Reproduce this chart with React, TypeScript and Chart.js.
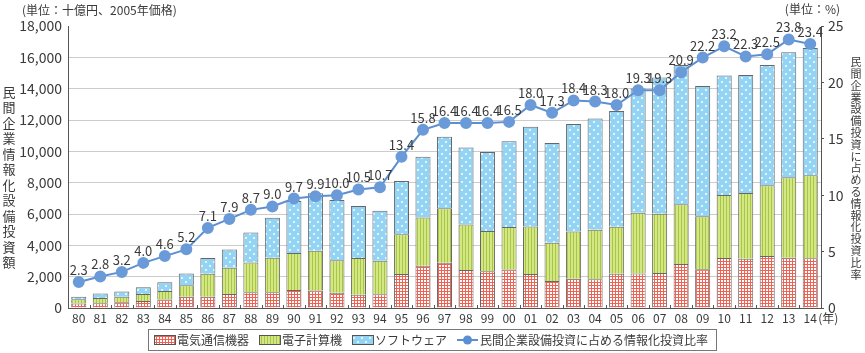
import { useEffect, useRef } from 'react';
import { Chart, registerables } from 'chart.js';

Chart.register(...registerables);

const years = ['80','81','82','83','84','85','86','87','88','89','90','91','92','93','94','95','96','97','98','99','00','01','02','03','04','05','06','07','08','09','10','11','12','13','14'];
const telecom = [280,300,360,450,550,720,720,890,1000,1000,1150,1110,980,850,870,2170,2700,2890,2420,2340,2450,2170,1720,1870,1830,2190,2210,2230,2810,2470,3190,3150,3320,3210,3170];
const computers = [280,340,360,450,530,740,1470,1680,1910,2210,2360,2550,2060,2340,2150,2530,3080,3470,2910,2570,2720,3040,2450,3020,3170,3000,3870,3780,3810,3380,4020,4190,4510,5130,5300];
const software = [165,280,340,420,560,750,1000,1170,1910,2550,3320,3660,3850,3320,3190,3400,3870,4570,4910,5040,5470,6360,6360,6850,7100,7380,7930,8700,8890,8320,7630,7530,7680,7980,8120];
const ratio = [2.3,2.8,3.2,4.0,4.6,5.2,7.1,7.9,8.7,9.0,9.7,9.9,10.0,10.5,10.7,13.4,15.8,16.4,16.4,16.4,16.5,18.0,17.3,18.4,18.3,18.0,19.3,19.3,20.9,22.2,23.2,22.3,22.5,23.8,23.4];

const seriesNames = ['電気通信機器', '電子計算機', 'ソフトウェア', '民間企業設備投資に占める情報化投資比率'];
const leftUnit = '(単位：十億円、2005年価格)';
const rightUnit = '(単位：%)';
const leftTitle = '民間企業情報化設備投資額';
const rightTitle = '民間企業設備投資に占める情報化投資比率';
const yearUnit = '(年)';

const FONT = "'Noto Sans CJK JP', 'Noto Sans', sans-serif";
const TEXT = '#3a3a3a';
const LINE = '#5b8fd1';
const AXIS = '#555555';

function makePattern(kind: string): CanvasPattern | string {
  const c = document.createElement('canvas');
  const x = c.getContext('2d');
  if (!x) return '#ccc';
  if (kind === 'red') {
    c.width = 3; c.height = 3;
    x.fillStyle = '#ee6353'; x.fillRect(0, 0, 3, 3);
    x.fillStyle = '#ffffff'; x.fillRect(1, 1, 2, 2);
  } else if (kind === 'green') {
    c.width = 3; c.height = 3;
    x.fillStyle = '#d3e783'; x.fillRect(0, 0, 3, 3);
    x.fillStyle = '#a8c54a'; x.fillRect(0, 0, 1, 3);
  } else {
    c.width = 8; c.height = 8;
    x.fillStyle = '#93d3f4'; x.fillRect(0, 0, 8, 8);
    x.fillStyle = '#ffffff';
    x.beginPath(); x.arc(2, 2, 1, 0, Math.PI * 2); x.fill();
    x.beginPath(); x.arc(6, 6, 1, 0, Math.PI * 2); x.fill();
  }
  return x.createPattern(c, 'repeat') || '#ccc';
}

export default function App() {
  const ref = useRef<HTMLCanvasElement | null>(null);

  useEffect(() => {
    document.body.style.margin = '0';
    const canvas = ref.current;
    if (!canvas) return;
    const pRed = makePattern('red');
    const pGreen = makePattern('green');
    const pBlue = makePattern('blue');

    const labelsPlugin = {
      id: 'ratioLabels',
      afterDatasetsDraw(chart: any) {
        const ctx = chart.ctx;
        const meta = chart.getDatasetMeta(3);
        ctx.save();
        ctx.font = `13px ${FONT}`;
        ctx.fillStyle = TEXT;
        ctx.textAlign = 'center';
        ctx.textBaseline = 'middle';
        meta.data.forEach((pt: any, i: number) => {
          ctx.fillText(ratio[i].toFixed(1), pt.x, pt.y - 12);
        });
        ctx.restore();
      },
    };

    const decorPlugin = {
      id: 'decor',
      afterDraw(chart: any) {
        const ctx = chart.ctx;
        const area = chart.chartArea;
        const xs = chart.scales.x;
        ctx.save();
        ctx.strokeStyle = AXIS;
        ctx.lineWidth = 1;
        const step = (area.right - area.left) / years.length;
        for (let i = 0; i <= years.length; i++) {
          const px = Math.round(area.left + i * step) + 0.5;
          ctx.beginPath();
          ctx.moveTo(px, area.bottom);
          ctx.lineTo(px, area.bottom - 3);
          ctx.stroke();
        }
        ctx.fillStyle = TEXT;
        ctx.font = `12px ${FONT}`;
        ctx.textBaseline = 'middle';
        ctx.textAlign = 'left';
        ctx.fillText(leftUnit, 22, 10);
        ctx.textAlign = 'right';
        ctx.fillText(rightUnit, 840, 9);
        ctx.textAlign = 'left';
        ctx.fillText(yearUnit, xs.getPixelForValue(years.length - 1) + 8, 318);
        ctx.textAlign = 'center';
        ctx.font = `13px ${FONT}`;
        Array.from(leftTitle).forEach((ch, i) => ctx.fillText(ch, 9, 92 + i * 15.5));
        ctx.font = `11px ${FONT}`;
        Array.from(rightTitle).forEach((ch, i) => ctx.fillText(ch, 856, 62 + i * 11.8));
        ctx.font = `12px ${FONT}`;
        const sw = 21, gapT = 2, gapI = 10;
        const widths = seriesNames.map((n) => ctx.measureText(n).width);
        let total = 0;
        widths.forEach((w, i) => { total += sw + gapT + w + (i < widths.length - 1 ? gapI : 0); });
        const cx = 431;
        let x0 = cx - total / 2;
        const boxL = Math.round(x0 - 6) + 0.5;
        const boxR = Math.round(x0 + total + 8) + 0.5;
        ctx.strokeStyle = '#777';
        ctx.strokeRect(boxL, 329.5, boxR - boxL, 21);
        const ly = 340;
        const fills = [pRed, pGreen, pBlue];
        seriesNames.forEach((n, i) => {
          if (i < 3) {
            ctx.fillStyle = fills[i] as any;
            ctx.fillRect(x0, ly - 5, sw, 10);
            ctx.strokeStyle = AXIS;
            ctx.strokeRect(Math.round(x0) + 0.5, ly - 4.5, sw, 9);
          } else {
            ctx.strokeStyle = LINE;
            ctx.lineWidth = 2;
            ctx.beginPath();
            ctx.moveTo(x0, ly);
            ctx.lineTo(x0 + sw, ly);
            ctx.stroke();
            ctx.fillStyle = LINE;
            ctx.beginPath();
            ctx.arc(x0 + sw / 2, ly, 4.5, 0, Math.PI * 2);
            ctx.fill();
            ctx.lineWidth = 1;
          }
          ctx.fillStyle = TEXT;
          ctx.textAlign = 'left';
          ctx.fillText(n, x0 + sw + gapT, ly);
          x0 += sw + gapT + widths[i] + gapI;
        });
        ctx.restore();
      },
    };

    const barCommon = {
      type: 'bar' as const,
      borderColor: '#666666',
      borderWidth: 1,
      barPercentage: 0.7,
      categoryPercentage: 1,
      yAxisID: 'y',
      stack: 's',
      order: 1,
    };

    const chart = new Chart(canvas, {
      type: 'bar',
      data: {
        labels: years,
        datasets: [
          { ...barCommon, label: seriesNames[0], data: telecom, backgroundColor: pRed as any },
          { ...barCommon, label: seriesNames[1], data: computers, backgroundColor: pGreen as any },
          { ...barCommon, label: seriesNames[2], data: software, backgroundColor: pBlue as any },
          {
            type: 'line' as const,
            label: seriesNames[3],
            data: ratio,
            yAxisID: 'y1',
            borderColor: LINE,
            backgroundColor: LINE,
            pointBackgroundColor: '#6a9bd8',
            pointBorderColor: '#6a9bd8',
            borderWidth: 2,
            pointRadius: 5,
            order: 0,
          } as any,
        ],
      },
      options: {
        responsive: false,
        animation: false,
        devicePixelRatio: 1,
        layout: { padding: { top: 26, bottom: 0, left: 0, right: 0 } },
        plugins: { legend: { display: false }, tooltip: { enabled: false } },
        scales: {
          x: {
            stacked: true,
            offset: true,
            grid: { display: false, drawTicks: false },
            border: { display: true, color: AXIS },
            ticks: { color: TEXT, font: { size: 12, family: FONT }, padding: 3, maxRotation: 0, autoSkip: false },
            afterFit: (s: any) => { s.height = 45; },
          },
          y: {
            position: 'left',
            stacked: true,
            min: 0,
            max: 18000,
            ticks: {
              stepSize: 2000,
              color: TEXT,
              padding: 6,
              font: { size: 14, family: FONT },
              callback: (v: any) => Number(v).toLocaleString('en-US'),
            },
            grid: {
              drawTicks: false,
              color: (c: any) => (c.tick && (c.tick.value === 0 || c.tick.value === 18000) ? 'rgba(0,0,0,0)' : '#cccccc'),
            },
            border: { display: true, color: AXIS },
            afterFit: (s: any) => { s.width = 68; },
          },
          y1: {
            position: 'right',
            min: 0,
            max: 25,
            ticks: { stepSize: 5, color: TEXT, padding: 4, font: { size: 14, family: FONT } },
            grid: { drawOnChartArea: false, drawTicks: true, tickLength: 3, color: AXIS },
            border: { display: true, color: AXIS },
            afterFit: (s: any) => { s.width = 44; },
          },
        },
      },
      plugins: [labelsPlugin, decorPlugin],
    });
    return () => chart.destroy();
  }, []);

  return (
    <div style={{ width: 865, height: 353, position: 'relative', background: '#fff' }}>
      <canvas ref={ref} width={865} height={353} />
    </div>
  );
}
